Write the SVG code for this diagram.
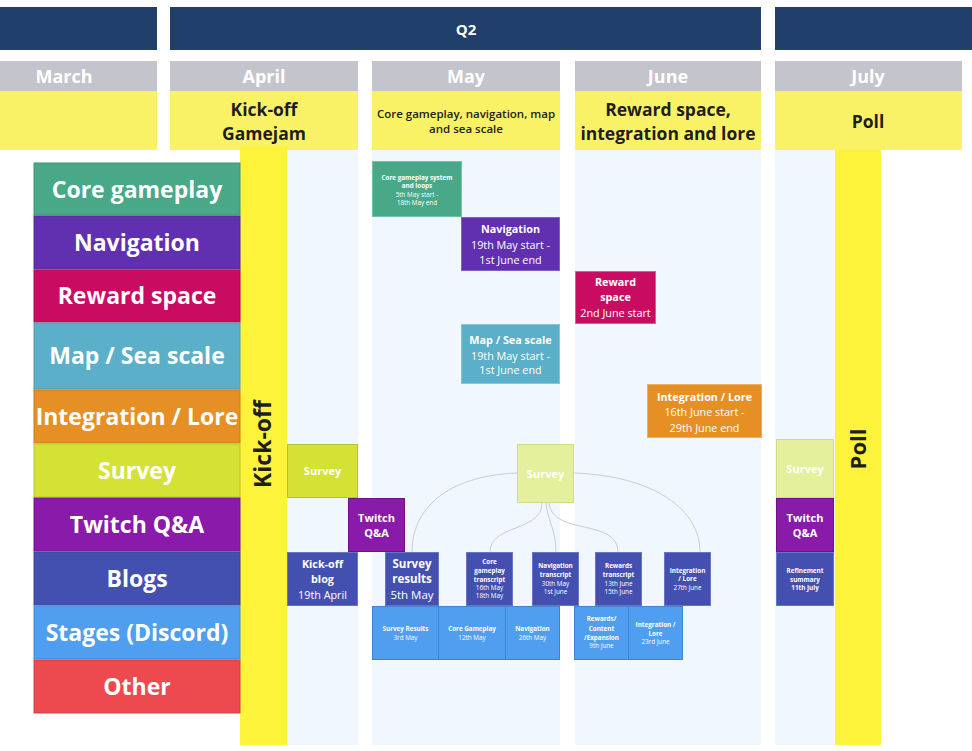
<svg xmlns="http://www.w3.org/2000/svg" width="972" height="751" viewBox="0 0 972 751">
<style>
text{font-family:"Open Sans","Noto Sans","Liberation Sans",sans-serif;text-anchor:middle}
.w{fill:#ffffff}
.d{fill:#1e1e1e}
.b{font-weight:700}
.cat{font-size:23px;font-weight:700;fill:#fff}
.mon{font-size:18px;font-weight:700;fill:#fff}
.hd{font-size:17.5px;font-weight:700;fill:#1e1e1e}
.t11{font-size:10.8px;fill:#fff}
.t6{font-size:6.3px;fill:#fff}
.navy{fill:#203f6b}
.gray{fill:#c4c4cc}
.yel{fill:#faf266}
.bar{fill:#fcf33a}
.col{fill:#f1f7fe}
.conn{fill:none;stroke:#c9ccd8;stroke-width:1}
</style>
<rect width="972" height="751" fill="#ffffff"/>
<g id="header">
<rect class="navy" x="0" y="7" width="157" height="43"/>
<rect class="navy" x="170" y="7" width="591" height="43"/>
<rect class="navy" x="775" y="7" width="197" height="43"/>
<text class="w b" x="466" y="35" font-size="15">Q2</text>
<rect class="gray" x="0" y="61" width="157" height="30"/>
<rect class="gray" x="170" y="61" width="188" height="30"/>
<rect class="gray" x="372" y="61" width="188" height="30"/>
<rect class="gray" x="575" y="61" width="186" height="30"/>
<rect class="gray" x="775" y="61" width="187" height="30"/>
<text class="mon" x="64" y="83">March</text>
<text class="mon" x="264" y="83">April</text>
<text class="mon" x="466" y="83">May</text>
<text class="mon" x="668" y="83">June</text>
<text class="mon" x="868" y="83">July</text>
<rect class="yel" x="0" y="91" width="157" height="59"/>
<rect class="yel" x="170" y="91" width="188" height="59"/>
<rect class="yel" x="372" y="91" width="188" height="59"/>
<rect class="yel" x="575" y="91" width="186" height="59"/>
<rect class="yel" x="775" y="91" width="187" height="59"/>
<text class="hd" x="264" y="116">Kick-off</text>
<text class="hd" x="264" y="140">Gamejam</text>
<text class="d" x="466" y="118" font-size="11.5" font-weight="600">Core gameplay, navigation, map</text>
<text class="d" x="466" y="133" font-size="11.5" font-weight="600">and sea scale</text>
<text class="hd" x="668" y="116">Reward space,</text>
<text class="hd" x="668" y="140">integration and lore</text>
<text class="hd" x="868" y="128">Poll</text>
</g>
<g id="columns">
<rect class="col" x="287" y="150" width="71" height="595"/>
<rect class="col" x="372" y="150" width="188" height="595"/>
<rect class="col" x="575" y="150" width="186" height="595"/>
<rect class="col" x="775" y="150" width="60" height="595"/>
</g>
<g id="kickoff-bar">
<rect class="bar" x="240" y="146" width="47" height="599"/>
<text class="d b" font-size="23" x="271" y="444" transform="rotate(-90 271 444)">Kick-off</text>
</g>
<g id="poll-bar">
<rect class="bar" x="835" y="150" width="46" height="595"/>
<text class="d b" font-size="22" x="866" y="449" transform="rotate(-90 866 449)">Poll</text>
</g>
<g id="categories">
<g id="cat-core"><rect x="34" y="163" width="206" height="52" fill="#48a888" stroke="#3f9478" stroke-width="1"/><text class="cat" x="137" y="198">Core gameplay</text></g>
<g id="cat-nav"><rect x="34" y="216" width="206" height="53" fill="#6030b0" stroke="#55299e" stroke-width="1"/><text class="cat" x="137" y="251">Navigation</text></g>
<g id="cat-reward"><rect x="34" y="270" width="206" height="52" fill="#c90c62" stroke="#b00a55" stroke-width="1"/><text class="cat" x="137" y="304">Reward space</text></g>
<g id="cat-map"><rect x="34" y="323" width="206" height="66" fill="#5bafc8" stroke="#4e9bb2" stroke-width="1"/><text class="cat" x="137" y="364">Map / Sea scale</text></g>
<g id="cat-integration"><rect x="34" y="390" width="206" height="53" fill="#e68f24" stroke="#cc7d1c" stroke-width="1"/><text class="cat" x="137" y="425">Integration / Lore</text></g>
<g id="cat-survey"><rect x="34" y="444" width="206" height="53" fill="#d4e236" stroke="#b9c62e" stroke-width="1"/><text class="cat" x="137" y="479">Survey</text></g>
<g id="cat-twitch"><rect x="34" y="498" width="206" height="53" fill="#8a1aaa" stroke="#761594" stroke-width="1"/><text class="cat" x="137" y="533">Twitch Q&amp;A</text></g>
<g id="cat-blogs"><rect x="34" y="552" width="206" height="53" fill="#4450b0" stroke="#3b4699" stroke-width="1"/><text class="cat" x="137" y="587">Blogs</text></g>
<g id="cat-stages"><rect x="34" y="606" width="206" height="53" fill="#4f9ef0" stroke="#438bd6" stroke-width="1"/><text class="cat" x="137" y="641">Stages (Discord)</text></g>
<g id="cat-other"><rect x="34" y="660" width="206" height="53" fill="#ec4a4e" stroke="#d04044" stroke-width="1"/><text class="cat" x="137" y="695">Other</text></g>
</g>
<g id="connectors">
<path class="conn" d="M517,473 C445,476 412,510 412,552"/>
<path class="conn" d="M542,503 C542,532 490,524 490,552"/>
<path class="conn" d="M546,503 C548,522 556,530 556,552"/>
<path class="conn" d="M549,503 C552,536 618,518 618,552"/>
<path class="conn" d="M574,473 C655,476 700,510 700,552"/>
</g>
<g id="node-core-system"><rect x="372.5" y="161.5" width="89" height="55" fill="#48a888" stroke="#74c2a6"/>
<text class="t6 b" x="417" y="179.5">Core gameplay system</text><text class="t6 b" x="417" y="188">and loops</text><text class="t6" x="417" y="196.5">5th May start -</text><text class="t6" x="417" y="205">18th May end</text></g>
<g id="node-navigation"><rect x="461.5" y="217.5" width="98" height="53" fill="#6030b0" stroke="#8060c8"/>
<text class="t11 b" x="510.5" y="233">Navigation</text><text class="t11" x="510.5" y="249">19th May start -</text><text class="t11" x="510.5" y="264">1st June end</text></g>
<g id="node-reward"><rect x="575.5" y="271.5" width="80" height="52" fill="#c90c62" stroke="#dc5c94"/>
<text class="t11 b" x="615.5" y="286">Reward</text><text class="t11 b" x="615.5" y="301">space</text><text class="t11" x="615.5" y="317">2nd June start</text></g>
<g id="node-map"><rect x="461.5" y="324.5" width="98" height="59" fill="#5bafc8" stroke="#86c6d8"/>
<text class="t11 b" x="510.5" y="344">Map / Sea scale</text><text class="t11" x="510.5" y="359.5">19th May start -</text><text class="t11" x="510.5" y="374">1st June end</text></g>
<g id="node-integration"><rect x="647.5" y="384.5" width="114" height="53" fill="#e68f24" stroke="#eeae60"/>
<text class="t11 b" x="704.5" y="401">Integration / Lore</text><text class="t11" x="704.5" y="416">16th June start -</text><text class="t11" x="704.5" y="432">29th June end</text></g>
<g id="node-survey-april"><rect x="287.5" y="444.5" width="70" height="53" fill="#d4e236" stroke="#b4c040"/>
<text class="b w" font-size="11" x="322.5" y="475">Survey</text></g>
<g id="node-twitch-april"><rect x="348.5" y="498.5" width="56" height="53" fill="#8a1aaa" stroke="#6e1088"/>
<text class="b w" font-size="11" x="376.5" y="522">Twitch</text><text class="b w" font-size="11" x="376.5" y="537">Q&amp;A</text></g>
<g id="node-kickoff-blog"><rect x="287.5" y="552.5" width="70" height="53" fill="#4450b0" stroke="#6a74c4"/>
<text class="t11 b" x="322.5" y="568">Kick-off</text><text class="t11 b" x="322.5" y="583">blog</text><text class="t11" x="322.5" y="599">19th April</text></g>
<g id="node-survey-results"><rect x="385.5" y="552.5" width="53" height="53" fill="#4450b0" stroke="#6a74c4"/>
<text class="b w" font-size="11.5" x="412" y="568">Survey</text><text class="b w" font-size="11.5" x="412" y="583">results</text><text class="w" font-size="11.5" x="412" y="599">5th May</text></g>
<g id="node-survey-may"><rect x="517.5" y="444.5" width="56" height="58" fill="#e4f09c" stroke="#d0dc86"/>
<text class="b w" font-size="11" x="545.5" y="478">Survey</text></g>
<g id="node-core-transcript"><rect x="466.5" y="552.5" width="46" height="53" fill="#4450b0" stroke="#6a74c4"/>
<text class="t6 b" x="489.5" y="564">Core</text><text class="t6 b" x="489.5" y="573">gameplay</text><text class="t6 b" x="489.5" y="581.5">transcript</text><text class="t6" x="489.5" y="590">16th May</text><text class="t6" x="489.5" y="598">18th May</text></g>
<g id="node-nav-transcript"><rect x="532.5" y="552.5" width="46" height="53" fill="#4450b0" stroke="#6a74c4"/>
<text class="t6 b" x="555.5" y="568">Navigation</text><text class="t6 b" x="555.5" y="577">transcript</text><text class="t6" x="555.5" y="586">30th May</text><text class="t6" x="555.5" y="594">1st June</text></g>
<g id="node-rewards-transcript"><rect x="595.5" y="552.5" width="46" height="53" fill="#4450b0" stroke="#6a74c4"/>
<text class="t6 b" x="618.5" y="568">Rewards</text><text class="t6 b" x="618.5" y="577">transcript</text><text class="t6" x="618.5" y="585.5">13th June</text><text class="t6" x="618.5" y="594">15th June</text></g>
<g id="node-integration-blog"><rect x="664.5" y="552.5" width="46" height="53" fill="#4450b0" stroke="#6a74c4"/>
<text class="t6 b" x="687.5" y="573">Integration</text><text class="t6 b" x="687.5" y="581">/ Lore</text><text class="t6" x="687.5" y="590">27th June</text></g>
<g id="node-stage-survey"><rect x="372.5" y="606.5" width="66" height="53" fill="#4f9ef0" stroke="#3f84cc"/>
<text class="t6 b" x="405.5" y="631">Survey Results</text><text class="t6" x="405.5" y="639.5">3rd May</text></g>
<g id="node-stage-core"><rect x="438.5" y="606.5" width="67" height="53" fill="#4f9ef0" stroke="#3f84cc"/>
<text class="t6 b" x="472" y="631">Core Gameplay</text><text class="t6" x="472" y="639.5">12th May</text></g>
<g id="node-stage-nav"><rect x="505.5" y="606.5" width="54" height="53" fill="#4f9ef0" stroke="#3f84cc"/>
<text class="t6 b" x="532.5" y="631">Navigation</text><text class="t6" x="532.5" y="639.5">26th May</text></g>
<g id="node-stage-rewards"><rect x="574.5" y="606.5" width="54" height="53" fill="#4f9ef0" stroke="#3f84cc"/>
<text class="t6 b" x="601.5" y="621">Rewards/</text><text class="t6 b" x="601.5" y="631">Content</text><text class="t6 b" x="601.5" y="639.5">/Expansion</text><text class="t6" x="601.5" y="648">9th June</text></g>
<g id="node-stage-integration"><rect x="628.5" y="606.5" width="54" height="53" fill="#4f9ef0" stroke="#3f84cc"/>
<text class="t6 b" x="655.5" y="627">Integration /</text><text class="t6 b" x="655.5" y="635.5">Lore</text><text class="t6" x="655.5" y="644">23rd June</text></g>
<g id="node-survey-july"><rect x="776.5" y="439.5" width="57" height="58" fill="#e4f09c" stroke="#d0dc86"/>
<text class="b w" font-size="11" x="805" y="473">Survey</text></g>
<g id="node-twitch-july"><rect x="776.5" y="498.5" width="57" height="53" fill="#8a1aaa" stroke="#6e1088"/>
<text class="b w" font-size="11" x="805" y="522">Twitch</text><text class="b w" font-size="11" x="805" y="537">Q&amp;A</text></g>
<g id="node-refinement"><rect x="776.5" y="552.5" width="57" height="53" fill="#4450b0" stroke="#6a74c4"/>
<text class="t6 b" x="805" y="573">Refinement</text><text class="t6 b" x="805" y="581.5">summary</text><text class="t6 b" x="805" y="590">11th July</text></g>
</svg>
